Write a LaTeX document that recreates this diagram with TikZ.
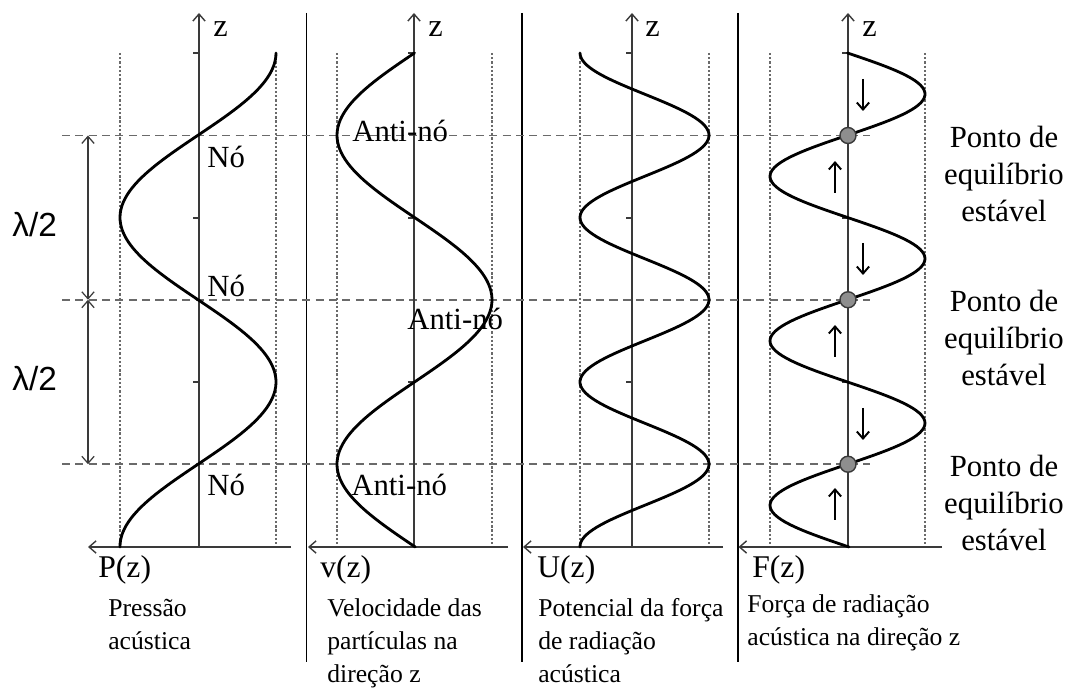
\documentclass[tikz,border=0pt]{standalone}
\usepackage{fontspec}
\setmainfont{Liberation Serif}
\newfontfamily\lamsans{Liberation Sans}
\usepackage{tikz}
\usepackage{xcolor}
\usetikzlibrary{arrows.meta}
\definecolor{AxisGray}{HTML}{3A3A3A}
\definecolor{GuideGray}{HTML}{6A6A6A}
\definecolor{DotGray}{HTML}{8E8E8E}

\begin{document}
\begin{tikzpicture}[x=0.02cm, y=-0.02cm,
  wave/.style={line width=1.6pt, line join=round, line cap=round},
  axisarr/.style={line width=0.8pt, draw=AxisGray, -{Straight Barb[length=4pt, width=7pt]}},
  ztick/.style={line width=0.8pt, draw=AxisGray},
  guide/.style={line width=0.8pt, draw=GuideGray, dash pattern=on 1.3pt off 1.1pt},
  nodeline/.style={line width=0.9pt, draw=GuideGray, dash pattern=on 4.6pt off 3pt},
  divider/.style={line width=0.7pt, draw=black},
  span/.style={line width=0.7pt, draw=AxisGray,
               {Straight Barb[length=4pt, width=7pt]}-{Straight Barb[length=4pt, width=7pt]}},
  push/.style={line width=1.1pt, -{Straight Barb[length=4pt, width=7pt]}},
  eqdot/.style={circle, draw=AxisGray, line width=0.8pt, fill=DotGray,
                minimum size=0.32cm, inner sep=0pt},
  nodetag/.style={font=\fontsize{17.5}{21}\selectfont, anchor=base west, inner sep=0pt},
  zlabel/.style={font=\fontsize{18.5}{22}\selectfont, anchor=base west, inner sep=0pt},
  funlabel/.style={font=\fontsize{18}{22}\selectfont, anchor=base west, inner sep=0pt},
  legend/.style={font=\fontsize{14.6}{18.5}\selectfont, align=left, anchor=base west, inner sep=0pt},
  eqtext/.style={font=\fontsize{17.5}{21.3}\selectfont, align=center, anchor=base, inner sep=0pt},
  halfwave/.style={font=\lamsans\fontsize{19}{22}\selectfont, anchor=base west, inner sep=0pt}
]
  \useasboundingbox (0,0) rectangle (1078,688);

  \draw[divider] (306.5,13) -- (306.5,662);
  \draw[divider] (522,13) -- (522,662);
  \draw[divider] (738,13) -- (738,662);

  \draw[guide] (120,53) -- (120,547);
  \draw[guide] (276,53) -- (276,547);
  \draw[guide] (337,53) -- (337,547);
  \draw[guide] (492,53) -- (492,547);
  \draw[guide] (580,53) -- (580,547);
  \draw[guide] (709,53) -- (709,547);
  \draw[guide] (770,53) -- (770,547);
  \draw[guide] (925,53) -- (925,547);

  \draw[nodeline] (62,135.5) -- (870,135.5);
  \draw[nodeline] (62,299.75) -- (870,299.75);
  \draw[nodeline] (62,464.25) -- (870,464.25);

  \draw[axisarr] (199,547) -- (199,13);
  \draw[axisarr] (414,547) -- (414,13);
  \draw[axisarr] (632,547) -- (632,13);
  \draw[axisarr] (848,547) -- (848,13);
  \draw[axisarr] (291,547) -- (88,547);
  \draw[axisarr] (508,547) -- (308,547);
  \draw[axisarr] (723,547) -- (523,547);
  \draw[axisarr] (942,547) -- (738.5,547);

  \draw[ztick] (193,53) -- (199,53) (193,218) -- (199,218) (193,382) -- (199,382);
  \draw[ztick] (408,53) -- (414,53) (408,218) -- (414,218) (408,382) -- (414,382);
  \draw[ztick] (626,53) -- (632,53) (626,218) -- (632,218) (626,382) -- (632,382);
  \draw[ztick] (842,53) -- (848,53) (842,218) -- (848,218) (842,382) -- (848,382);

  \draw[wave] plot[domain=53:547, samples=140, variable=\t]
        ({198+78*cos(1.09422*(\t-53))}, \t);
  \draw[wave] plot[domain=53:547, samples=140, variable=\t]
        ({414.5-77.5*sin(1.09422*(\t-53))}, \t);
  \draw[wave] plot[domain=53:547, samples=200, variable=\t]
        ({644.5-64.5*cos(2.18845*(\t-53))}, \t);
  \draw[wave] plot[domain=53:547, samples=200, variable=\t]
        ({847.5+77.5*sin(2.18845*(\t-53))}, \t);

  \node[zlabel] (z1) at (213,37) {z};
  \node[zlabel] (z2) at (428,37) {z};
  \node[zlabel] (z3) at (645,37) {z};
  \node[zlabel] (z4) at (862,37) {z};

  \coordinate (s0) at (88,135.5);
  \coordinate (s1) at (88,299.75);
  \coordinate (s2) at (88,464.25);
  \draw[span] (s0) -- (s1);
  \draw[span] (s1) -- (s2);
  \node[halfwave] (half1) at (12,237) {λ/2};
  \node[halfwave] (half2) at (12,391) {λ/2};

  \node[nodetag] (no1) at (207,168) {Nó};
  \node[nodetag] (no2) at (207,297) {Nó};
  \node[nodetag] (no3) at (207,496) {Nó};
  \node[nodetag] (anti1) at (352,142) {Anti-nó};
  \node[nodetag] (anti2) at (407,330) {Anti-nó};
  \node[nodetag] (anti3) at (351,496) {Anti-nó};

  \node[eqdot] (eq1) at (848,135.5) {};
  \node[eqdot] (eq2) at (848,299.75) {};
  \node[eqdot] (eq3) at (848,464.25) {};

  \draw[push] (863,79) -- (863,111);
  \draw[push] (863,243) -- (863,275);
  \draw[push] (863,408) -- (863,440);
  \draw[push] (835,193) -- (835,161);
  \draw[push] (835,357) -- (835,325);
  \draw[push] (835,520) -- (835,488);

  \node[eqtext] (stab1) at (1004,222) {Ponto de\\equilíbrio\\estável};
  \node[eqtext] (stab2) at (1004,386) {Ponto de\\equilíbrio\\estável};
  \node[eqtext] (stab3) at (1004,551) {Ponto de\\equilíbrio\\estável};

  \node[funlabel] (pz) at (98,578) {P(z)};
  \node[funlabel] (vz) at (320,578) {v(z)};
  \node[funlabel] (uz) at (537,578) {U(z)};
  \node[funlabel] (fz) at (752,578) {F(z)};

  \node[legend] (pcap) at (108,649.5) {Pressão\\acústica};
  \node[legend] (vcap) at (327,682) {Velocidade das\\partículas na\\direção z};
  \node[legend] (ucap) at (538,682) {Potencial da força\\de radiação\\acústica};
  \node[legend] (fcap) at (747,645) {Força de radiação\\acústica na direção z};
\end{tikzpicture}
\end{document}
